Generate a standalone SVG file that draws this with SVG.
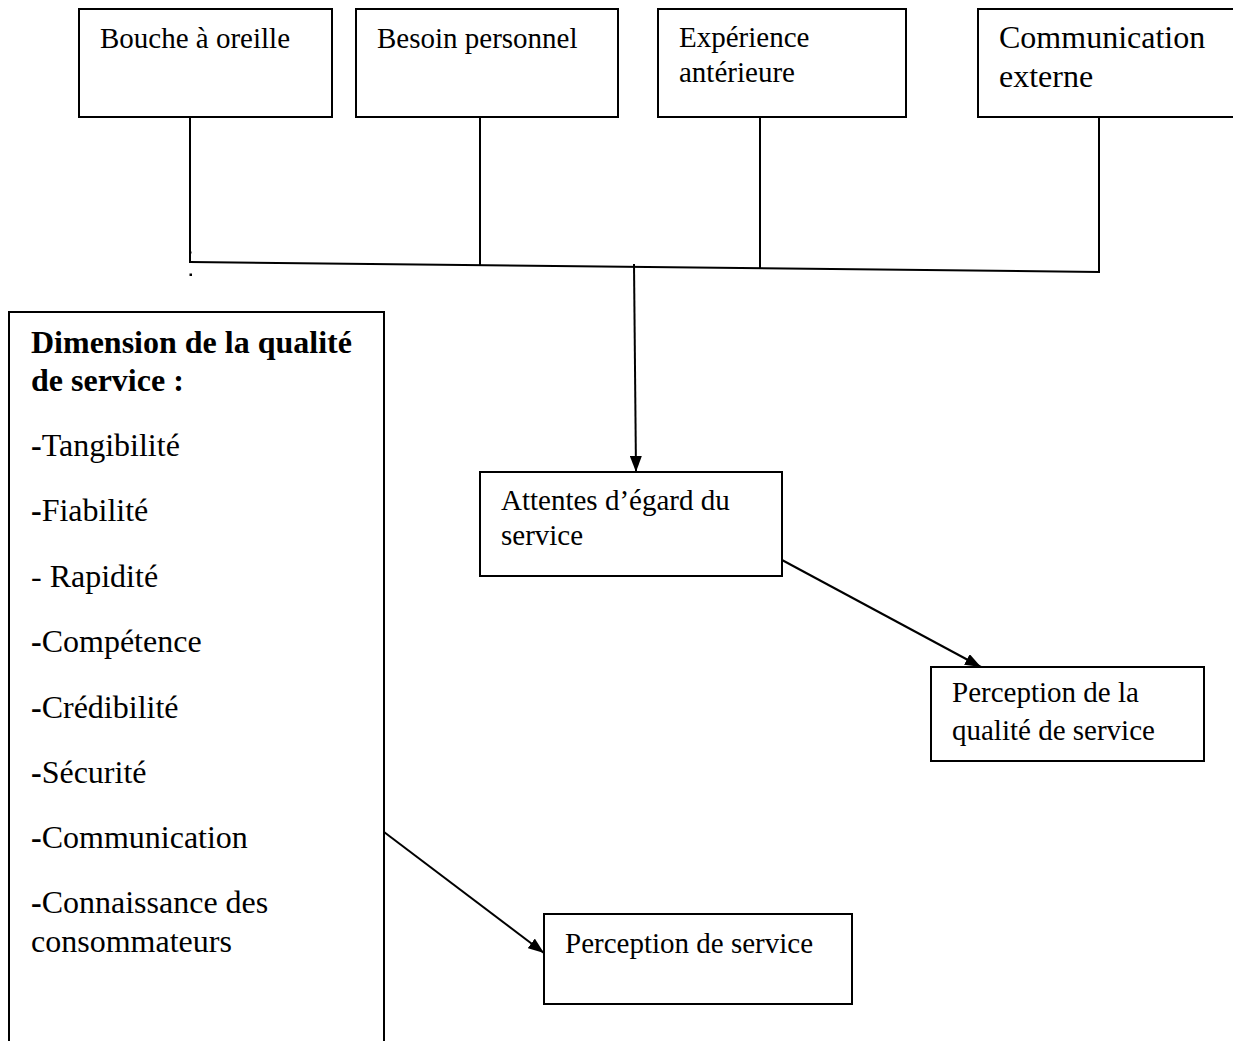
<svg xmlns="http://www.w3.org/2000/svg" width="1233" height="1041" viewBox="0 0 1233 1041">
  <style>
    .box { fill: #ffffff; stroke: #000000; stroke-width: 2; }
    .line { fill: none; stroke: #000000; stroke-width: 2; }
    .t { font-family: "Liberation Serif", "Times New Roman", serif; font-size: 29px; fill: #000000; }
    .tl { font-family: "Liberation Serif", "Times New Roman", serif; font-size: 32px; fill: #000000; }
    .b { font-weight: bold; }
  </style>
  <defs>
    <marker id="arrow" viewBox="0 0 16 12" refX="16" refY="6" markerWidth="16" markerHeight="12" markerUnits="userSpaceOnUse" orient="auto">
      <path d="M0,0 L16,6 L0,12 z" fill="#000000"/>
    </marker>
  </defs>
  <rect width="1233" height="1041" fill="#ffffff"/>

  <!-- connectors -->
  <g id="connectors">
    <line class="line" x1="190" y1="117" x2="190" y2="263"/>
    <line class="line" x1="480" y1="117" x2="480" y2="265"/>
    <line class="line" x1="760" y1="117" x2="760" y2="268"/>
    <polyline class="line" points="1099,117 1099,272 190,262"/>
    <rect x="189.5" y="251.5" width="2" height="2" fill="#000000"/>
    <rect x="189.5" y="273.5" width="2.5" height="2.5" fill="#000000"/>
    <line class="line" x1="634" y1="264" x2="636" y2="472" marker-end="url(#arrow)"/>
    <line class="line" x1="782" y1="560" x2="981" y2="667" marker-end="url(#arrow)"/>
    <line class="line" x1="384" y1="832" x2="544" y2="953" marker-end="url(#arrow)"/>
  </g>

  <!-- source boxes -->
  <g id="bouche">
    <rect class="box" x="79" y="9" width="253" height="108"/>
    <text class="t" x="100" y="48">Bouche à oreille</text>
  </g>
  <g id="besoin">
    <rect class="box" x="356" y="9" width="262" height="108"/>
    <text class="t" x="377" y="48">Besoin personnel</text>
  </g>
  <g id="experience">
    <rect class="box" x="658" y="9" width="248" height="108"/>
    <text class="t" x="679" y="47">Expérience</text>
    <text class="t" x="679" y="82">antérieure</text>
  </g>
  <g id="communication">
    <rect class="box" x="978" y="9" width="265" height="108"/>
    <text class="tl" x="999" y="48">Communication</text>
    <text class="tl" x="999" y="87">externe</text>
  </g>

  <!-- expectations -->
  <g id="attentes">
    <rect class="box" x="480" y="472" width="302" height="104"/>
    <text class="t" x="501" y="510">Attentes d’égard du</text>
    <text class="t" x="501" y="545">service</text>
  </g>

  <g id="perception-qualite">
    <rect class="box" x="931" y="667" width="273" height="94"/>
    <text class="t" x="952" y="702">Perception de la</text>
    <text class="t" x="952" y="740">qualité de service</text>
  </g>

  <!-- service quality dimensions -->
  <g id="dimensions">
    <path class="line" d="M9,1045 L9,312 L384,312 L384,1045"/>
    <text class="tl b" x="31" y="353">Dimension de la qualité</text>
    <text class="tl b" x="31" y="391">de service :</text>
    <text class="tl" x="31" y="456"><tspan class="b">-</tspan>Tangibilité</text>
    <text class="tl" x="31" y="521"><tspan class="b">-</tspan>Fiabilité</text>
    <text class="tl" x="31" y="587">- Rapidité</text>
    <text class="tl" x="31" y="652"><tspan class="b">-</tspan>Compétence</text>
    <text class="tl" x="31" y="718"><tspan class="b">-</tspan>Crédibilité</text>
    <text class="tl" x="31" y="783"><tspan class="b">-</tspan>Sécurité</text>
    <text class="tl" x="31" y="848"><tspan class="b">-</tspan>Communication</text>
    <text class="tl" x="31" y="913"><tspan class="b">-</tspan>Connaissance des</text>
    <text class="tl" x="31" y="952">consommateurs</text>
  </g>

  <g id="perception-service">
    <rect class="box" x="544" y="914" width="308" height="90"/>
    <text class="t" x="565" y="953">Perception de service</text>
  </g>
</svg>
